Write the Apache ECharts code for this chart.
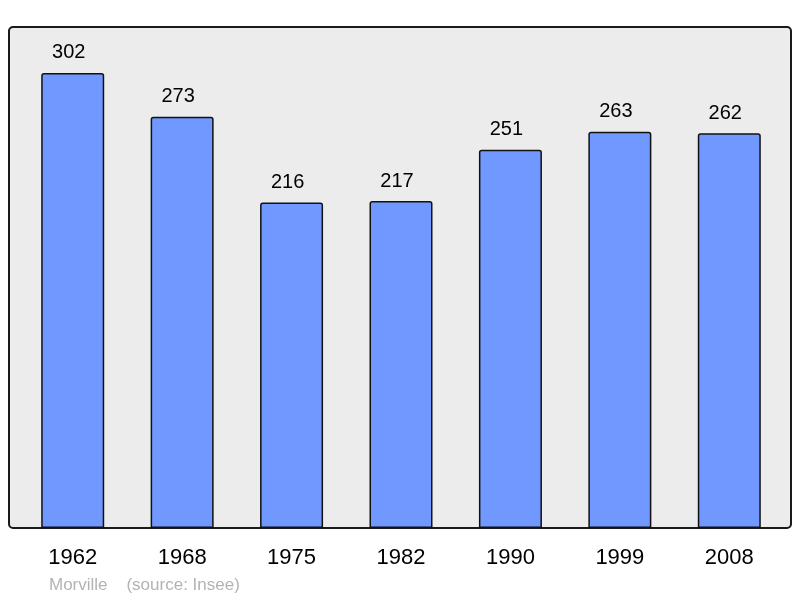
<!DOCTYPE html>
<html>
<head>
    <meta charset="utf-8"/>
    <title>Morville</title>
    <script src="https://cdn.jsdelivr.net/npm/echarts@6/dist/echarts.min.js"></script>
    <style>
        html, body { margin: 0; padding: 0; background: #fff; }
        #main { width: 800px; height: 598px; }
    </style>
</head>
<body>
<div id="main"></div>
<script>
    // données population
    var years = ['1962', '1968', '1975', '1982', '1990', '1999', '2008'];
    var population = [302, 273, 216, 217, 251, 263, 262];

    var myChart = echarts.init(document.getElementById('main'));
    var option = {
        animation: false,
        textStyle: { fontFamily: 'Liberation Sans' },
        graphic: [
            {
                // cadre du graphique
                type: 'rect',
                z: -10,
                shape: { x: 9, y: 27, width: 782, height: 501, r: 4 },
                style: { fill: '#ececec', stroke: '#1a1a1a', lineWidth: 2 }
            }
        ],
        title: {
            text: 'Morville    (source: Insee)',
            left: 49,
            top: 577,
            padding: 0,
            textStyle: { color: '#b3b3b3', fontSize: 17, fontWeight: 'normal', fontFamily: 'Liberation Sans' }
        },
        grid: { left: 18, right: 16, top: 27, bottom: 70 },
        xAxis: {
            type: 'category',
            data: years,
            axisLine: { show: false },
            axisTick: { show: false },
            axisLabel: { color: '#000', fontSize: 22, margin: 19 }
        },
        yAxis: {
            type: 'value',
            min: 0,
            max: 332.5,
            show: false,
            splitLine: { show: false }
        },
        series: [
            {
                type: 'bar',
                data: population,
                barWidth: 63,
                itemStyle: {
                    color: '#7098ff',
                    borderColor: '#111',
                    borderWidth: 1.5,
                    borderRadius: [2, 2, 0, 0]
                },
                label: {
                    show: true,
                    position: 'top',
                    distance: 10,
                    offset: [-4, 0],
                    color: '#000',
                    fontSize: 20
                }
            }
        ]
    };
    myChart.setOption(option);
</script>
</body>
</html>
